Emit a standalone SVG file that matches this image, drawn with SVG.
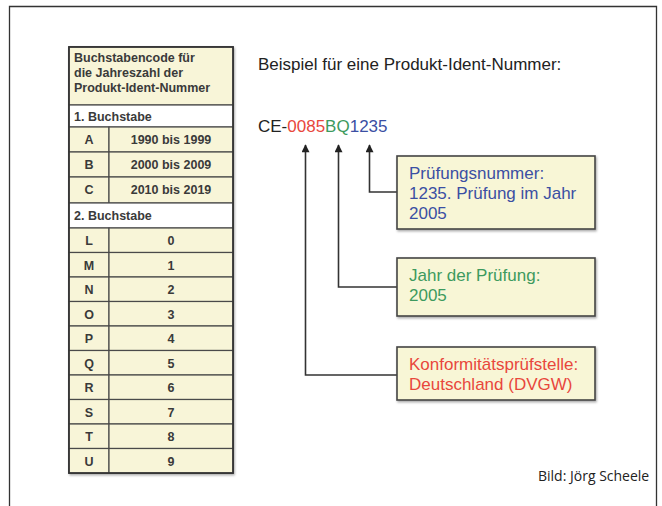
<svg xmlns="http://www.w3.org/2000/svg" width="662" height="506" viewBox="0 0 662 506">
<defs>
<marker id="ah" viewBox="0 0 10 10" refX="9" refY="5" markerWidth="9" markerHeight="8" orient="auto" markerUnits="userSpaceOnUse">
<path d="M0,0 L10,5 L0,10 Z" fill="#222"/>
</marker>
<filter id="sh" x="-5%" y="-5%" width="110%" height="115%">
<feDropShadow dx="1" dy="1.5" stdDeviation="0.8" flood-color="#000" flood-opacity="0.35"/>
</filter>
</defs>
<style>
.t{font-family:"Liberation Sans",Arial,sans-serif;font-weight:bold;font-size:12.5px;fill:#3a3a3a}
.c{text-anchor:middle}
.row{fill:#f8f5d8;stroke:#4a4a4a;stroke-width:1.2}
.wrow{fill:#fff;stroke:#4a4a4a;stroke-width:1.2}
.box{fill:#f8f6d6;stroke:#444;stroke-width:1.6}
.bt{font-family:"Liberation Sans",Arial,sans-serif;font-size:17px}
.con{fill:none;stroke:#333;stroke-width:1.6}
</style>
<rect width="662" height="506" fill="#fff"/>
<path d="M9.5,506 V6.5 H656.5 V506" fill="none" stroke="#333" stroke-width="1.3"/>

<g id="table">
<rect x="69" y="47" width="164" height="426" fill="#f8f5d8" stroke="#333" stroke-width="1.6" filter="url(#sh)"/>
<rect class="row" x="69" y="47" width="164" height="58"/>
<text class="t" x="74" y="62">Buchstabencode für</text>
<text class="t" x="74" y="77">die Jahreszahl der</text>
<text class="t" x="74" y="92">Produkt-Ident-Nummer</text>
<rect class="wrow" x="69" y="105" width="164" height="22"/>
<text class="t" x="74" y="121">1. Buchstabe</text>
<g id="rowA"><rect class="row" x="69" y="127" width="40" height="25"/><rect class="row" x="109" y="127" width="124" height="25"/><text class="t c" x="89" y="144">A</text><text class="t c" x="171" y="144">1990 bis 1999</text></g>
<g id="rowB"><rect class="row" x="69" y="152" width="40" height="25"/><rect class="row" x="109" y="152" width="124" height="25"/><text class="t c" x="89" y="169">B</text><text class="t c" x="171" y="169">2000 bis 2009</text></g>
<g id="rowC"><rect class="row" x="69" y="177" width="40" height="26"/><rect class="row" x="109" y="177" width="124" height="26"/><text class="t c" x="89" y="194">C</text><text class="t c" x="171" y="194">2010 bis 2019</text></g>
<rect class="wrow" x="69" y="203" width="164" height="25"/>
<text class="t" x="74" y="220">2. Buchstabe</text>
<g id="rowL"><rect class="row" x="69" y="228" width="40" height="24.5"/><rect class="row" x="109" y="228" width="124" height="24.5"/><text class="t c" x="89" y="245">L</text><text class="t c" x="171" y="245">0</text></g>
<g id="rowM"><rect class="row" x="69" y="252.5" width="40" height="24.5"/><rect class="row" x="109" y="252.5" width="124" height="24.5"/><text class="t c" x="89" y="269.5">M</text><text class="t c" x="171" y="269.5">1</text></g>
<g id="rowN"><rect class="row" x="69" y="277" width="40" height="24.5"/><rect class="row" x="109" y="277" width="124" height="24.5"/><text class="t c" x="89" y="294">N</text><text class="t c" x="171" y="294">2</text></g>
<g id="rowO"><rect class="row" x="69" y="301.5" width="40" height="24.5"/><rect class="row" x="109" y="301.5" width="124" height="24.5"/><text class="t c" x="89" y="318.5">O</text><text class="t c" x="171" y="318.5">3</text></g>
<g id="rowP"><rect class="row" x="69" y="326" width="40" height="24.5"/><rect class="row" x="109" y="326" width="124" height="24.5"/><text class="t c" x="89" y="343">P</text><text class="t c" x="171" y="343">4</text></g>
<g id="rowQ"><rect class="row" x="69" y="350.5" width="40" height="24.5"/><rect class="row" x="109" y="350.5" width="124" height="24.5"/><text class="t c" x="89" y="367.5">Q</text><text class="t c" x="171" y="367.5">5</text></g>
<g id="rowR"><rect class="row" x="69" y="375" width="40" height="24.5"/><rect class="row" x="109" y="375" width="124" height="24.5"/><text class="t c" x="89" y="392">R</text><text class="t c" x="171" y="392">6</text></g>
<g id="rowS"><rect class="row" x="69" y="399.5" width="40" height="24.5"/><rect class="row" x="109" y="399.5" width="124" height="24.5"/><text class="t c" x="89" y="416.5">S</text><text class="t c" x="171" y="416.5">7</text></g>
<g id="rowT"><rect class="row" x="69" y="424" width="40" height="24.5"/><rect class="row" x="109" y="424" width="124" height="24.5"/><text class="t c" x="89" y="441">T</text><text class="t c" x="171" y="441">8</text></g>
<g id="rowU"><rect class="row" x="69" y="448.5" width="40" height="24.5"/><rect class="row" x="109" y="448.5" width="124" height="24.5"/><text class="t c" x="89" y="465.5">U</text><text class="t c" x="171" y="465.5">9</text></g>
<rect x="69" y="47" width="164" height="426" fill="none" stroke="#333" stroke-width="1.6"/>
</g>

<g id="title">
<text x="258" y="70" font-family="Liberation Sans, Arial, sans-serif" font-size="17" fill="#222">Beispiel für eine Produkt-Ident-Nummer:</text>
</g>
<g id="code">
<text x="258" y="132" font-family="Liberation Sans, Arial, sans-serif" font-size="17"><tspan fill="#222">CE-</tspan><tspan fill="#e8473c">0085</tspan><tspan fill="#3d9a5e">BQ</tspan><tspan fill="#3b4fa3">1235</tspan></text>
</g>

<g id="connectors">
<path class="con" d="M397,192 H369.5 V145" marker-end="url(#ah)"/>
<path class="con" d="M397,287 H338.5 V145" marker-end="url(#ah)"/>
<path class="con" d="M397,375 H305.5 V145" marker-end="url(#ah)"/>
</g>

<g id="box-pruefungsnummer">
<rect class="box" x="397" y="156" width="198" height="73" filter="url(#sh)"/>
<text class="bt" fill="#3b4fa3" x="409" y="179">Prüfungsnummer:</text>
<text class="bt" fill="#3b4fa3" x="409" y="199">1235. Prüfung im Jahr</text>
<text class="bt" fill="#3b4fa3" x="409" y="219">2005</text>
</g>
<g id="box-jahr">
<rect class="box" x="397" y="258" width="198" height="58" filter="url(#sh)"/>
<text class="bt" fill="#3d9a5e" x="409" y="281">Jahr der Prüfung:</text>
<text class="bt" fill="#3d9a5e" x="409" y="301">2005</text>
</g>
<g id="box-konformitaet">
<rect class="box" x="397" y="347" width="198" height="53" filter="url(#sh)"/>
<text class="bt" fill="#e8473c" x="409" y="370">Konformitätsprüfstelle:</text>
<text class="bt" fill="#e8473c" x="409" y="390">Deutschland (DVGW)</text>
</g>

<g id="caption">
<text x="538" y="481" font-family="Open Sans, Noto Sans, sans-serif" font-size="14" fill="#222">Bild: Jörg Scheele</text>
</g>
</svg>
